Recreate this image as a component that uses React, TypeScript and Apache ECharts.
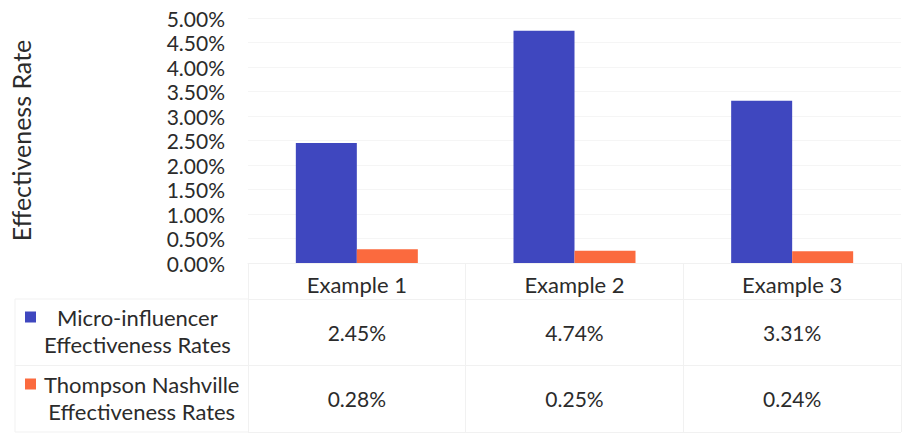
import React, { useEffect, useRef } from "react";
import * as echarts from "echarts";

// Chart data
const categories = ["Example 1", "Example 2", "Example 3"];
const seriesNames = [
  "Micro-influencer Effectiveness Rates",
  "Thompson Nashville Effectiveness Rates",
];
const microRates = [2.45, 4.74, 3.31];
const thompsonRates = [0.28, 0.25, 0.24];
const yAxisRange = { min: 0, max: 5, interval: 0.5 };

// Styling
const BLUE = "#3F47BF";
const ORANGE = "#FB6A3E";
const FONT = "Lato";
const TEXT = "#2b2b2b";
const RULE = "#f1f1f1";

const fmtPct = (v: number) => v.toFixed(2) + "%";

export default function App() {
  const ref = useRef<HTMLDivElement>(null);

  useEffect(() => {
    if (!ref.current) return;
    const chart = echarts.init(ref.current, null, { renderer: "svg" });

    // Legend labels: a blank first line keeps the key square level with the first line of text
    const legendFormatter = (name: string) => {
      const cut = name.indexOf(" Effectiveness");
      return `{e| }\n{a|${name.slice(0, cut)}}\n{a|${name.slice(cut + 1)}}`;
    };
    const legendRich = {
      e: { fontSize: 22, lineHeight: 27, fontFamily: FONT },
      a: { fontSize: 22, lineHeight: 27, fontFamily: FONT, color: TEXT, align: "center" },
    };
    const legendBase = {
      orient: "vertical",
      left: 25,
      padding: 0,
      itemWidth: 11,
      itemHeight: 11,
      itemGap: 0,
      icon: "rect",
      selectedMode: false,
      formatter: legendFormatter,
      textStyle: { rich: legendRich, padding: [0, 0, 0, 3] },
    };

    // Data-table cells: row 0 sits in the upper band, row 1 in the lower band
    const tableRows = [microRates, thompsonRates];
    const tableCells: number[][] = [];
    tableRows.forEach((row, r) =>
      row.forEach((v, c) => tableCells.push([c, tableRows.length - r - 0.5, v]))
    );
    const tableHeaderBand = 0.54;

    chart.setOption({
      animation: false,
      backgroundColor: "#ffffff",
      textStyle: { fontFamily: FONT },
      grid: [
        { left: 248, right: 17, top: 18, bottom: 172 },
        { left: 248, right: 17, top: 263, bottom: 3 },
      ],
      legend: [
        { ...legendBase, top: 279, data: [seriesNames[0]] },
        { ...legendBase, top: 346, data: [seriesNames[1]] },
      ],
      xAxis: [
        {
          type: "category",
          gridIndex: 0,
          data: categories,
          axisLine: { show: true, lineStyle: { color: RULE } },
          axisTick: { show: false },
          axisLabel: { fontSize: 22, color: TEXT, margin: 10, fontFamily: FONT },
          splitLine: { show: false },
        },
        {
          type: "category",
          gridIndex: 1,
          data: categories,
          boundaryGap: true,
          axisLine: { show: false },
          axisTick: { show: false },
          axisLabel: { show: false },
          splitLine: { show: true, lineStyle: { color: RULE } },
        },
      ],
      yAxis: [
        {
          type: "value",
          gridIndex: 0,
          min: yAxisRange.min,
          max: yAxisRange.max,
          interval: yAxisRange.interval,
          name: "Effectiveness Rate",
          nameLocation: "middle",
          nameRotate: 90,
          nameGap: 215,
          nameTextStyle: { fontSize: 25, color: TEXT, fontFamily: FONT },
          axisLine: { show: false },
          axisTick: { show: false },
          axisLabel: {
            fontSize: 21,
            color: TEXT,
            margin: 23,
            fontFamily: FONT,
            formatter: (v: number) => fmtPct(v),
          },
          splitLine: { show: true, lineStyle: { color: "#f5f5f5" } },
        },
        {
          type: "value",
          gridIndex: 1,
          min: 0,
          max: tableRows.length + tableHeaderBand,
          interval: 1,
          axisLine: { show: false },
          axisTick: { show: false },
          axisLabel: { show: false },
          splitLine: { show: true, lineStyle: { color: RULE } },
        },
      ],
      series: [
        {
          name: seriesNames[0],
          type: "bar",
          xAxisIndex: 0,
          yAxisIndex: 0,
          data: microRates,
          barWidth: 61,
          barGap: "0%",
          itemStyle: { color: BLUE },
        },
        {
          name: seriesNames[1],
          type: "bar",
          xAxisIndex: 0,
          yAxisIndex: 0,
          data: thompsonRates,
          barWidth: 61,
          barGap: "0%",
          itemStyle: { color: ORANGE },
        },
        {
          type: "custom",
          xAxisIndex: 1,
          yAxisIndex: 1,
          silent: true,
          data: tableCells,
          encode: { x: 0, y: 1 },
          renderItem: (_params: any, api: any) => {
            const p = api.coord([api.value(0), api.value(1)]);
            return {
              type: "text",
              x: p[0],
              y: p[1],
              style: {
                text: fmtPct(api.value(2)),
                align: "center",
                verticalAlign: "middle",
                fontSize: 21,
                fontFamily: FONT,
                fill: TEXT,
              },
            };
          },
        },
      ],
      graphic: [
        // borders of the legend column of the data table
        { type: "line", shape: { x1: 15, y1: 299, x2: 248, y2: 299 }, style: { stroke: RULE } },
        { type: "line", shape: { x1: 15, y1: 365.5, x2: 248, y2: 365.5 }, style: { stroke: RULE } },
        { type: "line", shape: { x1: 15, y1: 432, x2: 248, y2: 432 }, style: { stroke: RULE } },
        { type: "line", shape: { x1: 15, y1: 299, x2: 15, y2: 432 }, style: { stroke: RULE } },
      ],
    });

    return () => chart.dispose();
  }, []);

  return (
    <div
      ref={ref}
      style={{ position: "fixed", left: 0, top: 0, width: 918, height: 435 }}
    />
  );
}
